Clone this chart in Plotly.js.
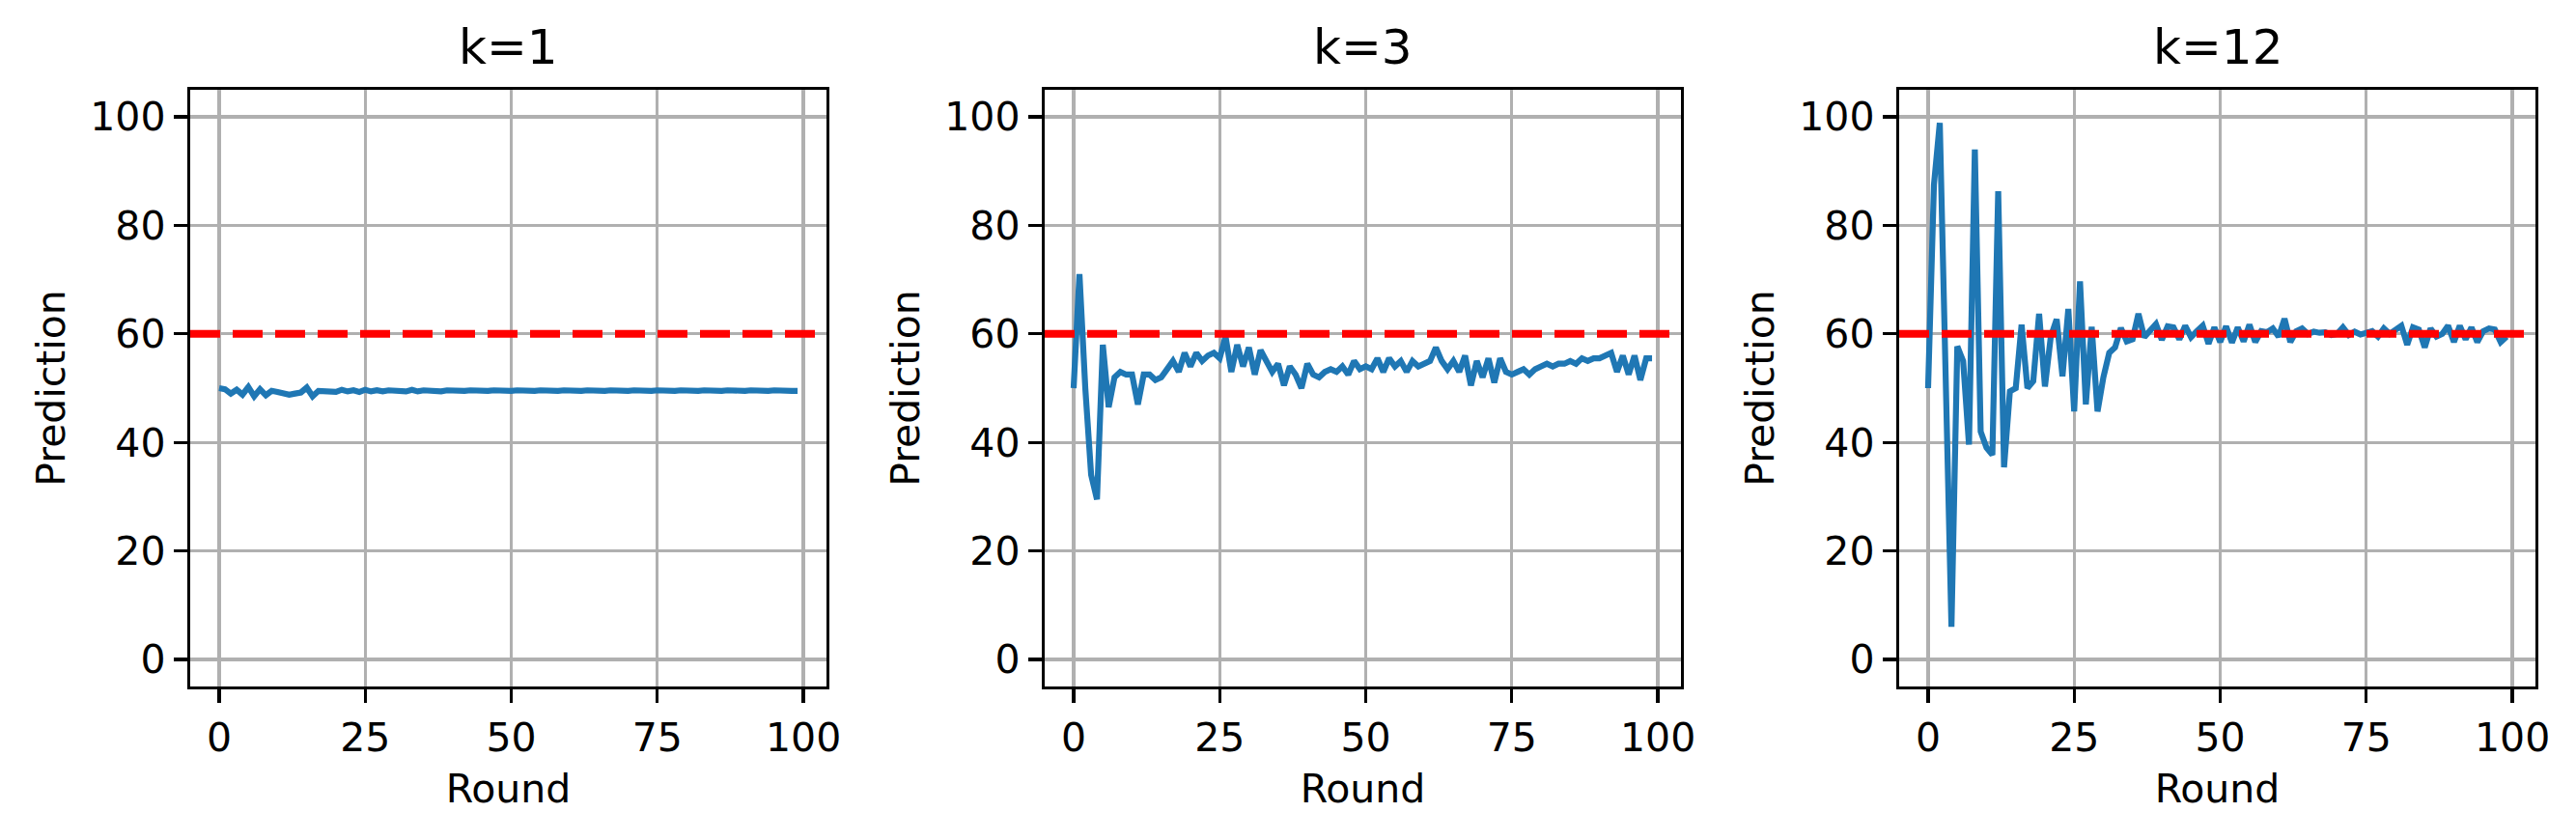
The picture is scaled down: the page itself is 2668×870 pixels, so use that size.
<!DOCTYPE html>
<html>
<head>
<meta charset="utf-8">
<script src="https://cdn.plot.ly/plotly-3.0.1.min.js"></script>
<style>body{margin:0;background:#fff}#chart{width:2668px;height:870px}</style>
</head>
<body>
<div id="chart"></div>
<script>
var titles = ["k=1", "k=3", "k=12"];
var target = 60;

var k1 = [50, 49.8, 49, 49.7, 48.8, 50.2, 48.5, 49.8, 48.7, 49.5,
  49.3, 49, 48.8, 49, 49.2, 50.1, 48.5, 49.5, 49.4, 49.5,
  49.3, 49.7, 49.4, 49.6, 49.3, 49.7, 49.4, 49.6, 49.4, 49.6,
  49.5, 49.6, 49.4, 49.7, 49.4, 49.6, 49.5, 49.6, 49.4, 49.6,
  49.5, 49.6, 49.5, 49.6, 49.5, 49.6, 49.5, 49.6, 49.5, 49.6,
  49.5, 49.6, 49.5, 49.6, 49.5, 49.6, 49.5, 49.6, 49.5, 49.6,
  49.5, 49.6, 49.5, 49.6, 49.5, 49.6, 49.5, 49.6, 49.5, 49.6,
  49.5, 49.6, 49.5, 49.6, 49.5, 49.6, 49.5, 49.6, 49.5, 49.6,
  49.5, 49.6, 49.5, 49.6, 49.5, 49.6, 49.5, 49.6, 49.5, 49.6,
  49.5, 49.6, 49.5, 49.6, 49.5, 49.6, 49.5, 49.6, 49.5, 49.5];

var k3 = [50, 71, 50, 34, 29.5, 58, 46.5, 52, 53, 52.5,
  52.5, 47, 52.5, 52.5, 51.5, 52, 53.5, 55, 53, 56.5,
  54, 56.5, 55, 56, 56.5, 55.5, 59.5, 53, 58, 54,
  57.5, 52.5, 57, 55, 53, 54.5, 50.5, 54, 52.5, 50,
  54.5, 52.5, 52, 53, 53.5, 53, 54, 52.5, 55, 53.5,
  54, 53.5, 55.5, 53, 55.5, 54, 55, 53, 55, 54,
  54.5, 55, 57.5, 55, 53.5, 55, 53, 56, 50.5, 55,
  52, 55.5, 51, 55.5, 53, 52.5, 53, 53.5, 52.5, 53.5,
  54, 54.5, 54, 54.5, 54.5, 55, 54.5, 55.5, 55, 55.5,
  55.5, 56, 56.5, 53, 56, 52.5, 56, 51.5, 55.5, 55.5];

var k12 = [50, 87.5, 98.9, 55, 6, 57.7, 55, 39.6, 94, 42,
  39, 37.7, 86.3, 35.4, 49.4, 50, 61.7, 50, 51.3, 63.7,
  50.3, 59.5, 62.7, 52.2, 64.6, 45.7, 69.7, 47, 61.3, 45.7,
  52, 56.5, 57.5, 61.1, 58.6, 59, 63.7, 59.4, 60.7, 61.8,
  58.9, 61.4, 61.2, 59, 61.5, 59.4, 60.5, 61.5, 58.2, 61.2,
  58.5, 61.4, 58.4, 61.2, 58.6, 61.7, 58.5, 60.5, 60.3, 61,
  59.5, 62.8, 58.5, 60.5, 61, 60, 60.4, 60.2, 60.3, 59.8,
  60, 61.2, 59.8, 60.4, 59.9, 60.2, 60.5, 59.5, 61, 60,
  60.8, 61.5, 58, 61.2, 60.8, 57.5, 61, 59.5, 60, 61.5,
  58.5, 61.5, 59, 61.2, 58.5, 60.5, 61, 60.8, 58.5, 59.5];

var series = [k1, k3, k12];
var rounds = k1.map(function(_, i) { return i; });

var font = {family: "DejaVu Sans", size: 41, color: "#000"};
var doms = [[197/2668, 856/2668], [1082/2668, 1741/2668], [1967/2668, 2626/2668]];
var traces = [];
var layout = {
  width: 2668, height: 870, showlegend: false,
  margin: {l: 0, r: 0, t: 0, b: 0},
  paper_bgcolor: "#fff", plot_bgcolor: "#fff",
  font: font, shapes: [], annotations: []
};

for (let i = 0; i < series.length; ++i) {
  var n = i == 0 ? "" : String(i + 1);
  traces.push({x: rounds, y: series[i], mode: "lines", xaxis: "x" + n, yaxis: "y" + n,
    line: {color: "#1f77b4", width: 6.2}});
  var ax = {
    domain: doms[i], anchor: "y" + n, range: [-4.95, 103.95],
    tickvals: [0, 25, 50, 75, 100], showgrid: true, gridcolor: "#b0b0b0", gridwidth: 3.3,
    zeroline: false, showline: true, mirror: true, linecolor: "#000", linewidth: 3.3,
    ticks: "outside", ticklen: 14, tickwidth: 3.3, tickcolor: "#000",
    tickfont: font, title: {text: "Round", font: font, standoff: 16}
  };
  var ay = {
    domain: [1 - 711/870, 1 - 93/870], anchor: "x" + n, range: [-5, 105],
    tickvals: [0, 20, 40, 60, 80, 100], showgrid: true, gridcolor: "#b0b0b0", gridwidth: 3.3,
    zeroline: false, showline: true, mirror: true, linecolor: "#000", linewidth: 3.3,
    ticks: "outside", ticklen: 14, tickwidth: 3.3, tickcolor: "#000",
    tickfont: font, title: {text: "Prediction", font: font, standoff: 14}
  };
  layout["xaxis" + n] = ax;
  layout["yaxis" + n] = ay;
  layout.shapes.push({type: "line", xref: "x" + n + " domain", yref: "y" + n,
    x0: 0, x1: 1, y0: target, y1: target,
    line: {color: "#ff0000", width: 8, dash: "31px,13px"}});
  layout.annotations.push({text: titles[i], xref: "paper", yref: "paper",
    x: (doms[i][0] + doms[i][1]) / 2, y: 1 - 80/870, xanchor: "center", yanchor: "bottom",
    showarrow: false, font: {family: "DejaVu Sans", size: 50, color: "#000"}});
}

Plotly.newPlot(document.getElementById("chart"), traces, layout, {displayModeBar: false, staticPlot: true});
</script>
</body>
</html>
